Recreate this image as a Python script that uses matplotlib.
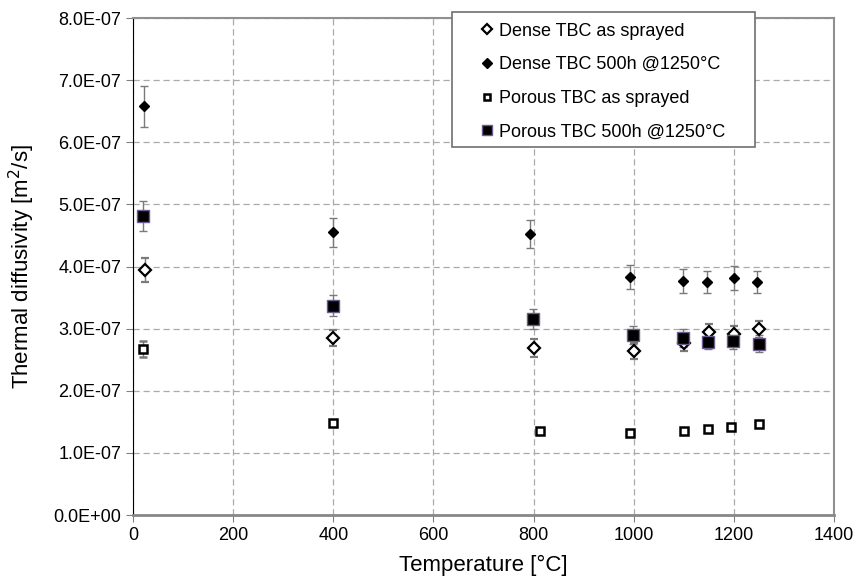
import numpy as np
import matplotlib
matplotlib.use('Agg')
import matplotlib.pyplot as plt
from matplotlib.patches import Rectangle
from matplotlib.ticker import FuncFormatter

plt.rcParams['font.family'] = ['Liberation Sans', 'DejaVu Sans']

# values in units of 1e-7 m2/s
dense_sprayed_T = [25, 400, 800, 1000, 1100, 1150, 1200, 1250]
dense_sprayed = [3.94, 2.85, 2.69, 2.64, 2.77, 2.94, 2.92, 2.99]
dense_sprayed_err = [0.19, 0.13, 0.14, 0.13, 0.13, 0.14, 0.13, 0.14]

dense_aged_T = [22, 400, 792, 993, 1098, 1147, 1200, 1247]
dense_aged = [6.58, 4.55, 4.52, 3.83, 3.77, 3.75, 3.82, 3.75]
dense_aged_err = [0.33, 0.23, 0.23, 0.19, 0.19, 0.18, 0.19, 0.18]

porous_sprayed_T = [20, 400, 813, 992, 1100, 1148, 1195, 1251]
porous_sprayed = [2.67, 1.48, 1.36, 1.32, 1.36, 1.38, 1.41, 1.46]
porous_sprayed_err = [0.13, 0.03, 0.02, 0.02, 0.02, 0.03, 0.03, 0.03]

porous_aged_T = [20, 400, 798, 998, 1099, 1148, 1198, 1250]
porous_aged = [4.81, 3.37, 3.15, 2.90, 2.85, 2.79, 2.80, 2.76]
porous_aged_err = [0.24, 0.17, 0.16, 0.14, 0.14, 0.12, 0.12, 0.14]

labels = ['Dense TBC as sprayed', 'Dense TBC 500h @1250°C',
          'Porous TBC as sprayed', 'Porous TBC 500h @1250°C']

fig = plt.figure(figsize=(8.54, 5.79), dpi=100)
ax = fig.add_axes([0.1557, 0.1105, 0.8209, 0.8584])

eb = dict(linestyle='none', ecolor='#7a7a7a', elinewidth=1.0, capsize=3, capthick=1.0)

s = 1e-7
ax.errorbar(dense_sprayed_T, np.array(dense_sprayed) * s, yerr=np.array(dense_sprayed_err) * s,
            marker='D', ms=6, mfc='white', mec='black', mew=1.6, label=labels[0], **eb)
ax.errorbar(dense_aged_T, np.array(dense_aged) * s, yerr=np.array(dense_aged_err) * s,
            marker='D', ms=5.5, mfc='black', mec='black', mew=1.0, label=labels[1], **eb)
ax.errorbar(porous_sprayed_T, np.array(porous_sprayed) * s, yerr=np.array(porous_sprayed_err) * s,
            marker='s', ms=5.5, mfc='white', mec='black', mew=1.8, label=labels[2], **eb)
ax.errorbar(porous_aged_T, np.array(porous_aged) * s, yerr=np.array(porous_aged_err) * s,
            marker='s', ms=8, mfc='black', mec='#6b5b8e', mew=1.0, label=labels[3], **eb)

ax.set_xlim(0, 1400)
ax.set_ylim(0, 8e-7)
ax.set_xticks(np.arange(0, 1401, 200))
ax.set_yticks(np.arange(0, 8.01e-7, 1e-7))
ax.yaxis.set_major_formatter(FuncFormatter(lambda v, p: '%.1E' % v))
ax.tick_params(labelsize=13, color='#808080', length=5)
ax.grid(True, linestyle=(0, (5, 3)), color='#aaaaaa', linewidth=0.9)
ax.set_axisbelow(True)

ax.spines['left'].set_color('black')
for side in ['top', 'right']:
    ax.spines[side].set_color('#909090')
    ax.spines[side].set_linewidth(1.5)
ax.spines['bottom'].set_color('#888888')
ax.spines['bottom'].set_linewidth(2.0)

ax.set_xlabel('Temperature [°C]', fontsize=16, labelpad=8)
ax.set_ylabel('Thermal diffusivity [m$^2$/s]', fontsize=16, labelpad=12)

# legend box
fig.patches.append(Rectangle((452 / 854, 1 - 147 / 579), 303 / 854, 135 / 579,
                             transform=fig.transFigure, facecolor='white',
                             edgecolor='#707070', linewidth=1.2, zorder=4))
handles, _ = ax.get_legend_handles_labels()
handles = [h[0] for h in handles]
fig.legend(handles, labels, loc='upper left', bbox_to_anchor=(466 / 854, 1 - 10 / 579),
           frameon=False, fontsize=13, handlelength=0.9, handletextpad=0.25,
           labelspacing=0.92, markerscale=0.85, borderpad=0.2)

fig.savefig('out.png', dpi=100)
